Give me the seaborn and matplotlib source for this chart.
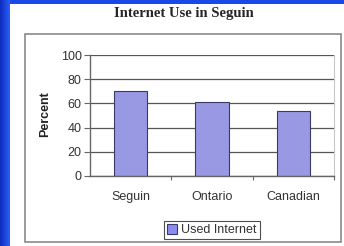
import numpy as np
import matplotlib
matplotlib.use("Agg")
import matplotlib.pyplot as plt
from matplotlib.patches import Rectangle
import seaborn as sns
import pandas as pd

# data
regions = ["Seguin", "Ontario", "Canadian"]
used_internet = [70, 61, 54]
series_name = "Used Internet"
y_ticks = [0, 20, 40, 60, 80, 100]

df = pd.DataFrame({"region": regions, "value": used_internet, "series": series_name})

sns.set_style("white")
plt.rcParams["font.family"] = ["Liberation Sans", "DejaVu Sans"]

W, H = 344, 246
fig = plt.figure(figsize=(W / 100, H / 100), dpi=100)
fig.patch.set_facecolor("#1a48e6")

# blue slide frame: gradient strip on the left, white panel over the rest
bg = fig.add_axes([0, 0, 1, 1], zorder=-10)
grad = np.linspace(0, 1, 10).reshape(1, -1)
bg.imshow(grad, extent=[0, 10 / W, 0, 1], aspect="auto",
          cmap=matplotlib.colors.LinearSegmentedColormap.from_list("b", ["#0f2fc0", "#2a5cf5"]))
bg.add_patch(Rectangle((10 / W, 0), 1 - 10 / W, 1 - 4 / H, facecolor="white", edgecolor="none"))
bg.add_patch(Rectangle((25 / W, 1 - 242 / H), 316 / W, 208 / H,
                       facecolor="none", edgecolor="#8a8a8a", lw=1.2))
bg.set_xlim(0, 1)
bg.set_ylim(0, 1)
bg.axis("off")

fig.text(184 / W, 1 - 14 / H, "Internet Use in Seguin", ha="center", va="center",
         fontsize=10.5, fontweight="bold", family=["Liberation Serif", "DejaVu Serif"])

ax = fig.add_axes([90 / W, 1 - 176 / H, 244 / W, 121 / H])
sns.barplot(data=df, x="region", y="value", hue="series", ax=ax, width=0.41,
            palette=["#8c8cf0"], edgecolor="#3a3a6a", linewidth=0.8, legend=False)

ax.set_ylim(0, 100)
ax.set_xlim(-0.5, 2.5)
ax.set_yticks(y_ticks)
ax.yaxis.grid(True, color="#555555", lw=0.9)
ax.set_axisbelow(True)
ax.set_xlabel("")
ax.set_ylabel("")
for s in ["left", "bottom"]:
    ax.spines[s].set_color("#666666")
    ax.spines[s].set_linewidth(1)
ax.spines["top"].set_visible(False)
ax.spines["right"].set_color("#c8c8c8")
ax.tick_params(axis="y", direction="out", length=4, width=0.8, color="#666666",
               labelsize=9, labelcolor="#333333", pad=2, left=True)
ax.tick_params(axis="x", which="major", length=0, labelsize=9, labelcolor="#333333", pad=11)
ax.set_xticks([0.5, 1.5, 2.5], minor=True)
ax.tick_params(axis="x", which="minor", direction="out", length=3, width=0.8, color="#666666",
               bottom=True)

fig.text(45 / W, 1 - 114 / H, "Percent", rotation=90, ha="center", va="center",
         fontsize=9, fontweight="bold", color="#222222")

handle = Rectangle((0, 0), 1, 1, facecolor="#8c8cf0", edgecolor="#3a3a6a", lw=0.8)
leg = fig.legend([handle], [series_name], loc="center", bbox_to_anchor=(212 / W, 1 - 230 / H),
                 fontsize=9, frameon=True, fancybox=False, handlelength=0.8, handleheight=0.8,
                 handletextpad=0.3, borderpad=0.25, borderaxespad=0)
leg.get_frame().set_edgecolor("#222222")
leg.get_frame().set_linewidth(0.8)
for t in leg.get_texts():
    t.set_color("#333333")

fig.savefig("out.png", dpi=100)
